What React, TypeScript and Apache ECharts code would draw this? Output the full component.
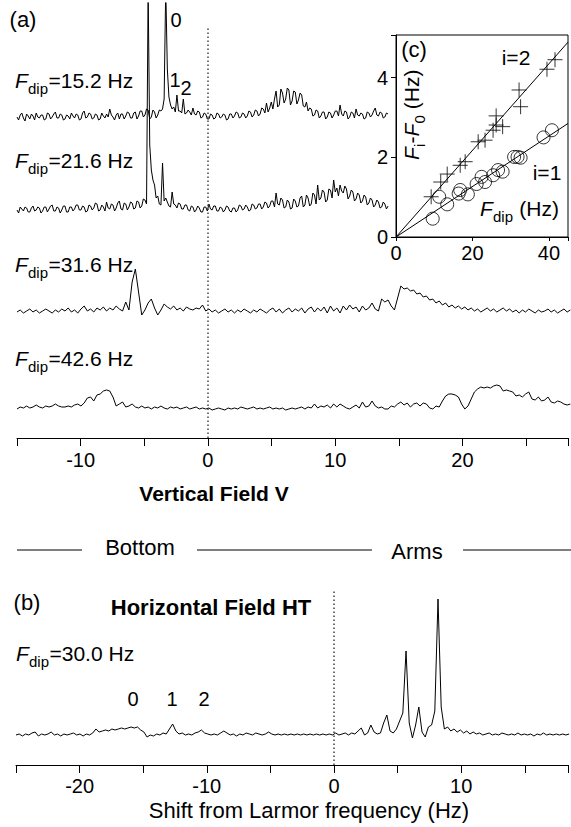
import React, { useEffect, useRef } from 'react';
import * as echarts from 'echarts';

const FONT = '"Liberation Sans", Arial, Helvetica, sans-serif';
const STEP = 0.25;
const FINE_STEP = 0.125;
const A_START = -15;
const B_START = -25;

// Panel (a): signal (arbitrary units above baseline), traces 1-2 sampled every 0.125 Hz from -15
const trace152 = [
  0, -3, 2, 4, -1, -4, 3, 1,
  -2, 3, 1, -3, 4, 0, -1, 2,
  2, -3, -2, 4, 3, -2, 0, 3,
  5, -1, -1, 3, 2, -3, -2, 2,
  1, -2, 4, 1, -1, 3, 2, -3,
  -2, 4, 6, -1, 0, 4, 3, -2,
  -1, 3, 2, -3, -2, 4, 1, -1,
  3, 0, 8, 2, 0, -3, 2, 4,
  -2, 3, 3, -2, 1, 5, 4, -1,
  -1, 4, 5, -2, 1, 6, 6, 0,
  2, 8, 7, -2, 0, 7, 5, -1,
  2, 7, 6, 8, 18, 130, 48, 20,
  12, 8, 10, 5, 22, 6, 6, 4,
  18, 3, 4, 7, 5, 2, 9, 3,
  2, 6, 5, -1, 0, 4, 3, -2,
  -2, 3, 2, -2, -1, 4, 3, -1,
  0, 3, 2, -3, -2, 3, 3, -1,
  1, 5, 4, -1, 0, 4, 3, -1,
  1, 6, 5, 0, 2, 7, 6, 1,
  3, 9, 8, 4, 14, 5, 9, 15,
  8, 18, 26, 10, 12, 28, 24, 14,
  18, 29, 27, 12, 16, 26, 25, 13,
  17, 24, 22, 11, 10, 15, 6, 9,
  8, 1, 2, 7, 6, -1, 1, 5,
  5, -2, 0, 5, 4, -1, 2, 6,
  6, 1, 12, 3, 1, 6, 5, -2,
  0, 5, 4, -1, 8, 2, 1, 4,
  3, -2, -1, 5, 4, 0, 2, 6,
  9, 2, 1, 5, 4, -1, 0, 4,
  3,
];
const trace216 = [
  0, -3, 3, 1, -1, 3, 2, -2,
  -2, 2, 4, -1, 0, 3, 2, -3,
  -1, 3, 3, -2, 1, 4, 5, -1,
  -1, 3, 2, -3, 0, 4, 4, -2,
  -2, 3, 3, -1, 1, 5, 5, 0,
  0, 4, 3, -2, -1, 5, 4, 0,
  2, 7, 6, -1, 0, 5, 3, -1,
  8, 2, 1, 6, 5, -1, 2, 7,
  9, 1, 0, 7, 6, 0, 3, 8,
  7, 1, 2, 9, 8, 2, 4, 11,
  10, 6, 220, 65, 40, 30, 25, 12,
  14, 6, 5, 47, 9, 12, 8, 4,
  3, 18, 6, 5, 2, 7, 6, 1,
  1, 5, 5, 0, -1, 4, 3, -2,
  0, 4, 2, -2, -2, 3, 3, -1,
  6, 1, 0, 4, 4, -1, -1, 3,
  2, -2, 0, 4, 3, -1, -2, 2,
  2, -2, 0, 5, 4, 0, 1, 5,
  3, -1, 0, 6, 5, 1, 2, 6,
  6, 1, 3, 8, 7, 2, 4, 9,
  9, 3, 17, 6, 5, 12, 10, 2,
  3, 10, 8, 1, 2, 11, 9, 3,
  4, 12, 14, 3, 5, 15, 12, 4,
  6, 17, 15, 6, 25, 10, 12, 20,
  18, 8, 10, 21, 20, 12, 30, 18,
  22, 14, 25, 19, 17, 24, 21, 11,
  14, 20, 18, 9, 11, 17, 15, 7,
  9, 15, 13, 5, 7, 12, 10, 3,
  5, 10, 8, 2, 3, 8, 6, 1,
  4,
];
// traces 3-4 sampled every 0.25 Hz from -15
const trace316 = [
  0, 2, -1, 1, 3, 0, 2, -1, 1, 3, 1, -1, 2, 0, 3, 1, 4, 0, 2, -1,
  3, 6, 1, 3, 0, 4, 2, 5, 1, 4, 2, 6, 3, 1, 10, 2, 30, 43, 20, -3,
  2, 9, 13, 4, -3, 2, 8, 5, 3, 6, 2, 4, 1, 5, 3, 2, 4, 3, 7, 1,
  3, 0, 2, -1, 1, 3, 0, 2, -1, 2, 0, 3, 1, -1, 2, 0, 3, 1, -1, 2,
  4, 0, 3, -1, 2, 4, 0, 3, 1, 4, -1, 3, 5, 0, 4, 1, 5, -1, 6, 1,
  4, -1, 6, 2, 7, 3, 5, 0, 6, 2, 4, 9, 3, 1, 13, 10, 12, 6, 2, 14,
  26, 23, 24, 21, 22, 18, 19, 15, 16, 12, 13, 9, 11, 7, 9, 5, 7, 4, 6, 3,
  5, 2, 4, 1, 3, 0, 2, 4, 1, 3, 0, 2, 4, 1, 3, 0, 2, -1, 2, 0,
  3, 1, -1, 2, 0, 1, 3, 0, 2, -1, 1, 3, 0, 2,
];
const trace426 = [
  0, 2, 1, 3, 1, 2, 4, 2, 1, 3, 2, 3, 5, 3, 2, 2, 3, 2, 4, 5,
  3, 6, 11, 12, 8, 14, 15, 18, 19, 18, 12, 3, 5, 7, 2, 3, 5, 2, 1, 3,
  1, 2, 0, 2, 1, 3, 1, 0, 2, 1, 2, 0, 1, 2, 0, 1, 2, 0, 1, 0,
  1, -1, 0, 1, 0, -1, 1, 0, 1, 0, 2, 1, 0, 1, 2, 0, 1, 0, 1, 2,
  0, 1, 0, 1, -1, 0, 1, 0, 1, 2, 0, 2, 1, 5, 1, 3, 2, 4, 1, 5,
  2, 5, 3, 1, 0, 2, 4, 1, 7, 2, 3, 8, 3, 1, 2, 0, 0, 3, 2, 5,
  7, 4, 6, 2, 5, 6, 3, 6, 5, 1, 0, 3, 2, 8, 13, 15, 15, 14, 12, 5,
  0, 3, 10, 17, 20, 22, 21, 22, 21, 23, 24, 23, 18, 19, 18, 17, 13, 14, 12, 15,
  17, 10, 9, 12, 8, 9, 12, 7, 6, 8, 7, 5, 4, 5,
];
// Panel (b): sampled every 0.25 Hz from -25
const traceHT300 = [
  0, 1, -1, 1, 0, 2, 3, -1, 1, 0, 1, 3, 0, 1, -1, 1, 0, 1, 2, 0,
  1, -1, 1, 0, 2, 6, 3, 4, 5, 4, 6, 5, 6, 7, 6, 7, 8, 7, 8, 5,
  3, -2, 0, -1, 1, 0, 2, 1, 6, 11, 4, 1, 2, 0, 1, 0, 2, 3, 5, 2,
  1, 0, 1, 0, 2, 4, 2, 0, 1, -1, 1, 0, 2, 1, 0, 2, 1, 0, 1, 3,
  1, 0, 1, 0, 1, 0, 1, 0, 1, 0, 1, 0, 1, 0, 1, 0, 1, 0, 1, 0,
  2, 0, 1, 2, 0, 2, 1, 4, 7, 0, 2, 10, 3, 1, 2, 12, 20, 4, 2, 6,
  14, 22, 84, 12, -3, 10, 28, 3, -2, 8, 10, 24, 136, 28, 6, 8, 4, 6, 3, 5,
  2, 4, 1, 3, 1, 2, 0, 1, 2, 0, 1, 0, 2, 1, 0, 1, 0, 2, 0, 1,
  0, 1, -1, 1, 0, 2, 0, 1, 0, 1, 0, 1, 0, 1,
];

// Inset (c)
const i2Fdip = [9.2, 11.7, 13.4, 16.8, 18.1, 21.5, 23.3, 25.4, 26.2, 26.2, 27.9, 32.2, 32.6, 39.5, 41.6];
const i2Shift = [1.01, 1.38, 1.58, 1.8, 1.89, 2.39, 2.43, 2.68, 2.81, 3.04, 2.77, 3.69, 3.27, 4.21, 4.45];
const i1Fdip = [9.6, 11.3, 13.4, 16.4, 16.8, 18.8, 21.1, 22.4, 23.3, 25.4, 26.7, 27.9, 30.9, 31.8, 32.6, 38.6, 40.8];
const i1Shift = [0.46, 1.01, 0.82, 1.09, 1.18, 1.07, 1.33, 1.51, 1.38, 1.55, 1.68, 1.64, 2.01, 2.01, 1.99, 2.5, 2.68];
const fitFdip = [0, 45];
const fit2 = [0, 4.89];
const fit1 = [0, 2.85];

const traceLabels = ['=15.2 Hz', '=21.6 Hz', '=31.6 Hz', '=42.6 Hz'];
const htLabel = '=30.0 Hz';

const pairs = (start: number, step: number, vals: number[]) => vals.map((v, i) => [start + i * step, v]);
const zip = (xs: number[], ys: number[]) => xs.map((x, i) => [x, ys[i]]);

const MAIN = 21;
const SUB = 15;
const SUB_DY = 8;

const piece = (text: string, x: number, y: number, size: number, italic = false) => ({
  type: 'text', x, y, silent: true,
  style: { text, fontSize: size, fontFamily: FONT, fontStyle: italic ? 'italic' : 'normal', fill: '#000', align: 'left', verticalAlign: 'middle' },
});

export default function App() {
  const ref = useRef<HTMLDivElement>(null);
  useEffect(() => {
    if (!ref.current) return;
    const chart = echarts.init(ref.current, null, { renderer: 'svg' });
    const L = 17;
    const W = 554;
    const traceGrids = [
      { top: 3, base: 117, bottom: 140 },
      { top: 3, base: 210, bottom: 235 },
      { top: 200, base: 312, bottom: 335 },
      { top: 300, base: 409, bottom: 430 },
    ];
    const grids: any[] = traceGrids.map((g) => ({ left: L, width: W, top: g.top, height: g.bottom - g.top }));
    grids.push({ left: L, width: W, top: 28, height: 438 - 28 }); // 4 axis (a)
    grids.push({ left: 396, width: 175, top: 35, height: 202, show: true, borderColor: '#000', borderWidth: 1, backgroundColor: '#fff' }); // 5 inset
    grids.push({ left: 16, width: 555, top: 590, height: 760 - 590 }); // 6 trace b
    grids.push({ left: 16, width: 555, top: 590, height: 765 - 590 }); // 7 axis b

    const hiddenX = (gi: number, min: number, max: number) => ({ gridIndex: gi, type: 'value', min, max, show: false });
    const xAxis: any[] = [0, 1, 2, 3].map((i) => hiddenX(i, -15, 28.3));
    const yAxis: any[] = traceGrids.map((g, i) => ({
      gridIndex: i, type: 'value', show: false, min: -(g.bottom - g.base), max: g.base - g.top,
    }));
    const axisStyle = {
      axisLine: { show: true, onZero: false, lineStyle: { color: '#000', width: 1 } },
      axisTick: { show: true, length: 8, lineStyle: { color: '#000', width: 1 } },
      splitLine: { show: false },
    };
    xAxis.push({
      gridIndex: 4, type: 'value', min: -15, max: 28.3, interval: 5, ...axisStyle,
      axisLabel: { fontSize: 20, color: '#000', fontFamily: FONT, margin: 12, formatter: (v: number) => (v % 10 === 0 ? String(v) : '') },
    });
    yAxis.push({ gridIndex: 4, type: 'value', min: 0, max: 1, show: false });
    xAxis.push({
      gridIndex: 5, type: 'value', min: 0, max: 45, interval: 20, ...axisStyle,
      axisTick: { show: true, length: 4, lineStyle: { color: '#000' } },
      axisLabel: { fontSize: 20, color: '#000', fontFamily: FONT, margin: 6, formatter: (v: number) => (v % 20 === 0 ? String(v) : '') },
    });
    yAxis.push({
      gridIndex: 5, type: 'value', min: 0, max: 5.07, interval: 2, ...axisStyle,
      axisTick: { show: true, length: 5, lineStyle: { color: '#000' } },
      axisLabel: { fontSize: 20, color: '#000', fontFamily: FONT, margin: 8, formatter: (v: number) => (v % 2 === 0 ? String(v) : '') },
    });
    xAxis.push(hiddenX(6, -25, 18.4));
    yAxis.push({ gridIndex: 6, type: 'value', show: false, min: -25, max: 145 });
    xAxis.push({
      gridIndex: 7, type: 'value', min: -25, max: 18.4, interval: 5, ...axisStyle,
      axisLabel: { fontSize: 20, color: '#000', fontFamily: FONT, margin: 11, formatter: (v: number) => (v % 10 === 0 ? String(v) : '') },
    });
    yAxis.push({ gridIndex: 7, type: 'value', min: 0, max: 1, show: false });

    const lineSeries = (i: number, data: number[][]) => ({
      type: 'line', xAxisIndex: i, yAxisIndex: i, data, showSymbol: false, symbol: 'none', clip: true,
      lineStyle: { color: '#000', width: 1 }, silent: true, z: 3,
    });
    const dotted = (i: number) => ({
      type: 'line', xAxisIndex: i, yAxisIndex: i, data: [[0, 0.5]], showSymbol: false, symbol: 'none', silent: true,
      lineStyle: { width: 0 },
      markLine: {
        symbol: 'none', silent: true, label: { show: false },
        lineStyle: { color: '#444', width: 1.5, type: [1.5, 2.5] },
        data: [{ xAxis: 0 }],
      },
    });

    const series: any[] = [
      dotted(4),
      dotted(7),
      lineSeries(0, pairs(A_START, FINE_STEP, trace152)),
      lineSeries(1, pairs(A_START, FINE_STEP, trace216)),
      lineSeries(2, pairs(A_START, STEP, trace316)),
      lineSeries(3, pairs(A_START, STEP, trace426)),
      lineSeries(6, pairs(B_START, STEP, traceHT300)),
      { ...lineSeries(5, zip(fitFdip, fit2)), z: 4 },
      { ...lineSeries(5, zip(fitFdip, fit1)), z: 4 },
      {
        type: 'scatter', xAxisIndex: 5, yAxisIndex: 5, data: zip(i2Fdip, i2Shift), silent: true, z: 5,
        symbol: 'path://M5,0 L5,10 M0,5 L10,5', symbolSize: 15,
        itemStyle: { color: 'none', borderColor: '#000', borderWidth: 1 },
      },
      {
        type: 'scatter', xAxisIndex: 5, yAxisIndex: 5, data: zip(i1Fdip, i1Shift), silent: true, z: 5,
        symbol: 'circle', symbolSize: 13,
        itemStyle: { color: 'none', borderColor: '#000', borderWidth: 1 },
      },
    ];

    const txt = (text: string, x: number, y: number, size: number, extra: any = {}) => ({
      type: 'text', x, y, z: 100, silent: true,
      style: { text, fontSize: size, fontFamily: FONT, fill: '#000', align: 'center', verticalAlign: 'middle', ...extra },
    });
    // F with subscript "dip", then tail text
    const fdip = (tail: string, x: number, y: number) => ({
      type: 'group', x, y, z: 100, silent: true,
      children: [
        piece('F', 0, 0, MAIN, true),
        piece('dip', 13, SUB_DY, SUB),
        piece(tail, 33.5, 0, MAIN),
      ],
    });
    const hline = (x1: number, x2: number, y: number) => ({
      type: 'line', z: 100, silent: true, shape: { x1, y1: y, x2, y2: y }, style: { stroke: '#000', lineWidth: 1 },
    });
    const labelYs = [80, 160, 264, 358];
    const graphic: any[] = [
      txt('(a)', 23, 19, 22),
      ...traceLabels.map((t, i) => fdip(t, 15, labelYs[i])),
      txt('0', 176, 20, 20),
      txt('1', 175, 80, 20),
      txt('2', 186, 88, 20),
      txt('Vertical Field V', 214, 493, 21, { fontWeight: 'bold' }),
      hline(17, 82, 550),
      txt('Bottom', 140, 547, 22),
      hline(197, 372, 550),
      txt('Arms', 417, 551, 22),
      hline(463, 571, 550),
      txt('(b)', 27, 602, 22),
      txt('Horizontal Field HT', 211, 607, 22, { fontWeight: 'bold' }),
      fdip(htLabel, 16, 653),
      txt('0', 133, 699, 20),
      txt('1', 172, 699, 20),
      txt('2', 204, 699, 20),
      txt('Shift from Larmor frequency (Hz)', 309, 810, 22),
      txt('(c)', 414, 49, 22),
      txt('i=2', 516, 57, 21),
      txt('i=1', 547, 172, 21),
      fdip(' (Hz)', 480, 208),
      {
        type: 'group', x: 411, y: 115, rotation: Math.PI / 2, z: 100, silent: true,
        children: [
          piece('F', -45, 0, MAIN, true),
          piece('i', -32, SUB_DY, SUB),
          piece('-', -28.5, 0, MAIN),
          piece('F', -21.5, 0, MAIN, true),
          piece('0', -8.5, SUB_DY, SUB),
          piece(' (Hz)', 0, 0, MAIN),
        ],
      },
    ];

    chart.setOption({ animation: false, backgroundColor: '#fff', grid: grids, xAxis, yAxis, series, graphic });
    return () => chart.dispose();
  }, []);
  return <div ref={ref} style={{ position: 'absolute', left: 0, top: 0, width: 571, height: 827 }} />;
}
